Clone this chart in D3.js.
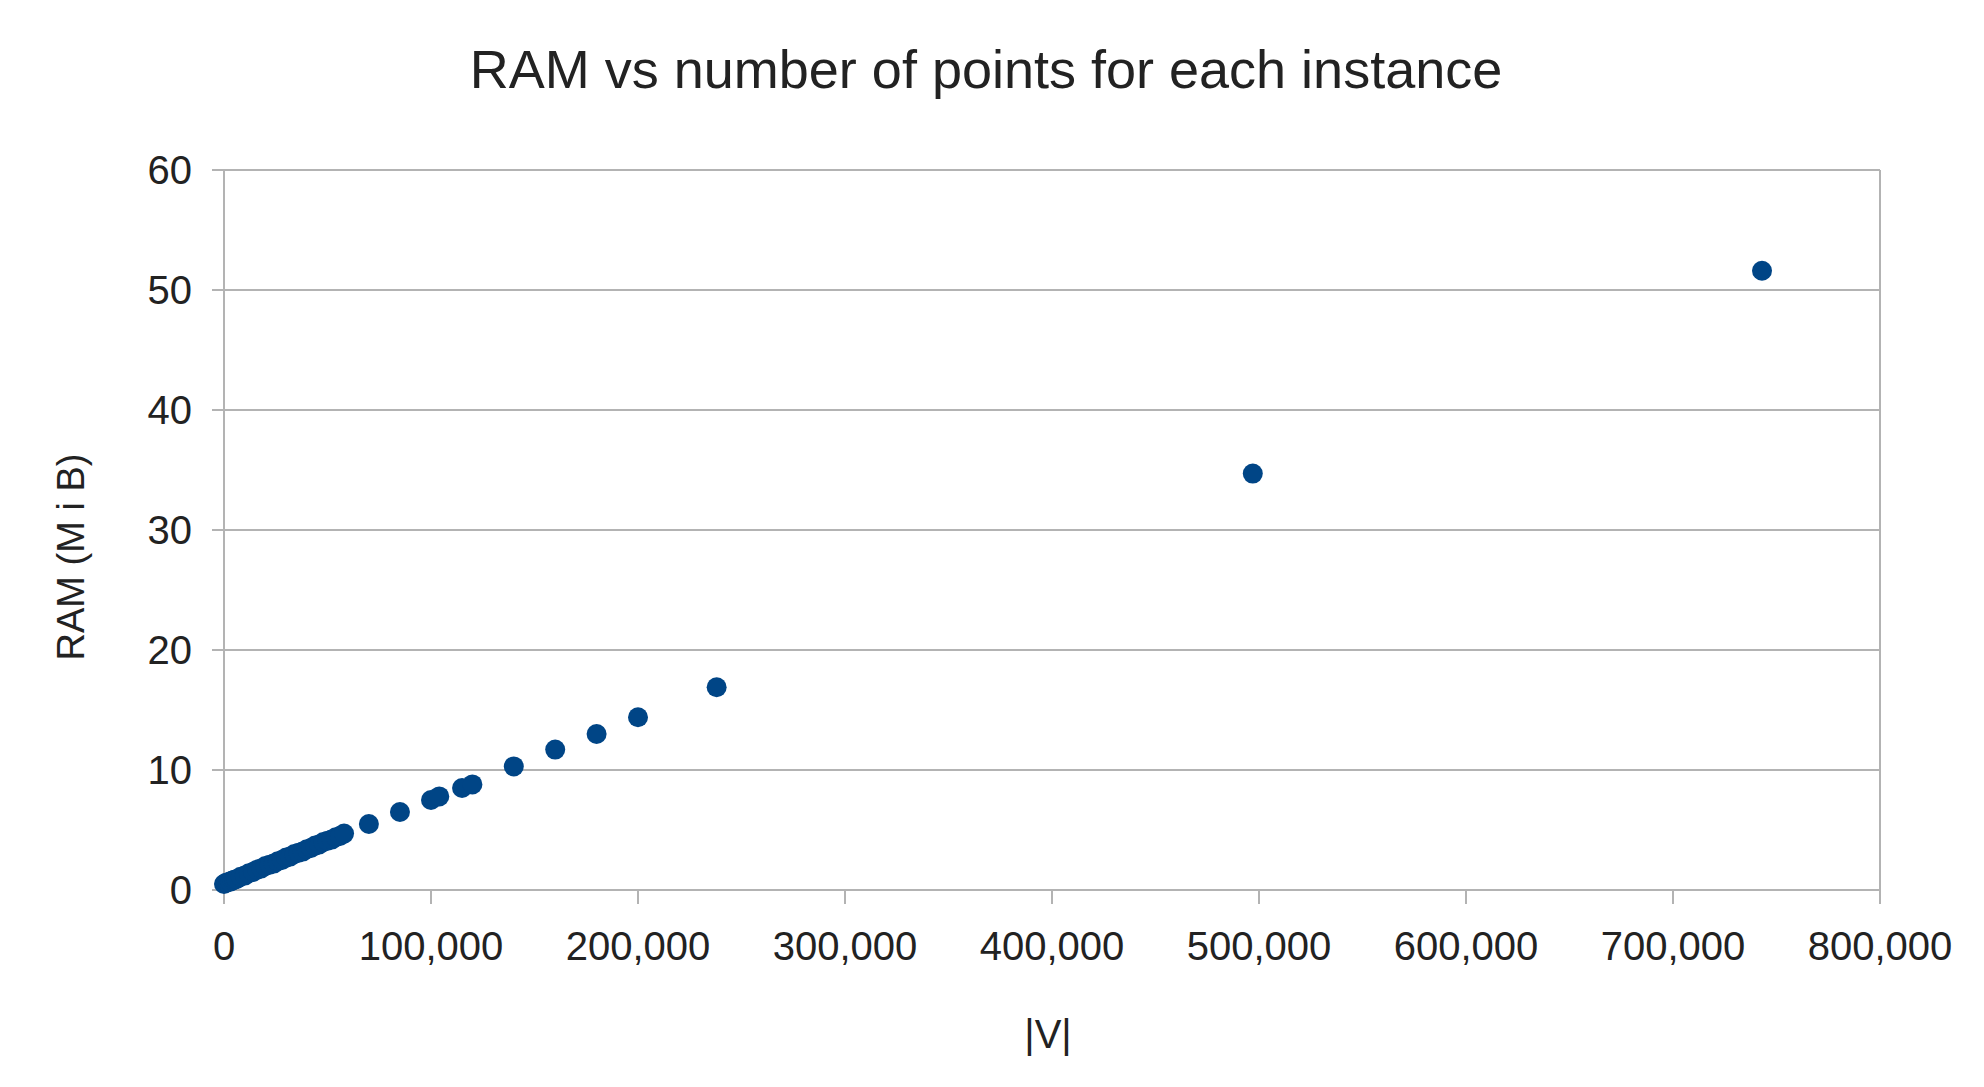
<!DOCTYPE html><html><head><meta charset="utf-8"><script src="https://cdn.jsdelivr.net/npm/d3@7"></script>
<style>body{margin:0;background:#fff}text{font-family:"Liberation Sans",Arial,sans-serif}</style></head><body>
<script>
const pointsV = [0,1000,2000,3000,4000,5000,6000,8000,10000,12000,14000,16000,18000,20000,22000,24000,26000,28000,30000,32000,34000,36000,38000,40000,42000,44000,46000,48000,50000,52000,54000,56000,58000,70000,85000,100000,104000,115000,120000,140000,160000,180000,200000,238000,497000,743000];
const ramMiB = [0.5,0.6,0.65,0.7,0.8,0.85,0.9,1.1,1.2,1.4,1.5,1.7,1.8,2.0,2.1,2.2,2.4,2.5,2.7,2.8,3.0,3.1,3.2,3.4,3.5,3.7,3.8,4.0,4.1,4.2,4.4,4.5,4.7,5.5,6.5,7.5,7.8,8.5,8.8,10.3,11.7,13.0,14.4,16.9,34.7,51.6];
const xTicks = [0,100000,200000,300000,400000,500000,600000,700000,800000];
const yTicks = [0,10,20,30,40,50,60];
const W=1984,H=1087,L=224,R=1880,T=170,B=890;
const svg=d3.select("body").append("svg").attr("width",W).attr("height",H);
const x=d3.scaleLinear().domain([0,800000]).range([L,R]);
const y=d3.scaleLinear().domain([0,60]).range([B,T]);
const g="#b3b3b3";
svg.append("g").selectAll("line").data(yTicks).join("line").attr("x1",L-12).attr("x2",R).attr("y1",d=>y(d)).attr("y2",d=>y(d)).attr("stroke",g).attr("stroke-width",2);
svg.append("line").attr("x1",L).attr("x2",L).attr("y1",T).attr("y2",B).attr("stroke",g).attr("stroke-width",2);
svg.append("line").attr("x1",R).attr("x2",R).attr("y1",T).attr("y2",B).attr("stroke",g).attr("stroke-width",2);
svg.append("g").selectAll("line").data(xTicks).join("line").attr("x1",d=>x(d)).attr("x2",d=>x(d)).attr("y1",B).attr("y2",B+14).attr("stroke",g).attr("stroke-width",2);
svg.append("g").selectAll("text").data(yTicks).join("text").attr("x",L-32).attr("y",d=>y(d)).attr("dy","0.35em").attr("text-anchor","end").attr("font-size",40).attr("fill","#222").text(d=>d);
const fmt=d3.format(",");
svg.append("g").selectAll("text").data(xTicks).join("text").attr("x",d=>x(d)).attr("y",B+70).attr("text-anchor","middle").attr("font-size",40).attr("fill","#222").text(d=>fmt(d));
svg.append("g").selectAll("circle").data(pointsV).join("circle").attr("cx",d=>x(d)).attr("cy",(d,i)=>y(ramMiB[i])).attr("r",10).attr("fill","#004586");
svg.append("text").attr("x",986).attr("y",88).attr("text-anchor","middle").attr("font-size",54).attr("fill","#222").text("RAM vs number of points for each instance");
svg.append("text").attr("x",1048).attr("y",1048).attr("text-anchor","middle").attr("font-size",40).attr("fill","#222").text("|V|");
svg.append("text").attr("transform","translate(84,557) rotate(-90)").attr("text-anchor","middle").attr("font-size",38).attr("fill","#222").text("RAM (M i B)");
</script></body></html>
